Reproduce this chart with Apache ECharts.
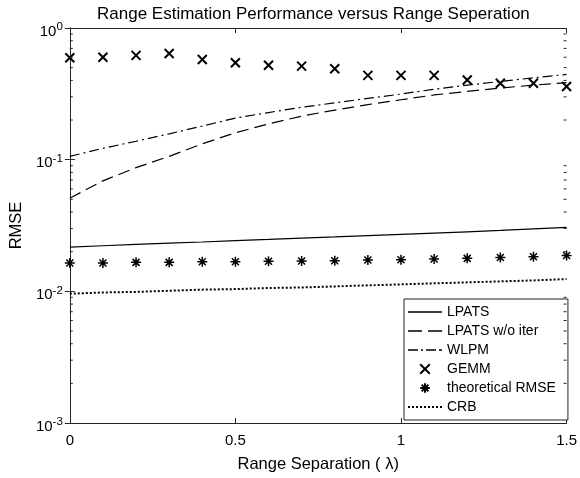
<!DOCTYPE html>
<html>
<head>
<meta charset="utf-8">
<script src="https://cdn.jsdelivr.net/npm/echarts@6/dist/echarts.min.js"></script>
<style>
  html, body { margin: 0; padding: 0; background: #fff; }
  #main { width: 580px; height: 478px; }
</style>
</head>
<body>
<div id="main"></div>
<script>
var xValues = [0, 0.1, 0.2, 0.3, 0.4, 0.5, 0.6, 0.7, 0.8, 0.9, 1.0, 1.1, 1.2, 1.3, 1.4, 1.5];
var lpats = [0.0217, 0.0222, 0.0227, 0.0232, 0.0237, 0.0243, 0.0248, 0.0254, 0.0259, 0.0265, 0.0271, 0.0277, 0.0283, 0.0290, 0.0298, 0.0306];
var lpatsNoIter = [0.051, 0.069, 0.087, 0.106, 0.132, 0.160, 0.187, 0.214, 0.238, 0.262, 0.285, 0.310, 0.330, 0.350, 0.368, 0.385];
var wlpm = [0.106, 0.122, 0.138, 0.157, 0.180, 0.207, 0.228, 0.250, 0.270, 0.292, 0.315, 0.343, 0.368, 0.393, 0.418, 0.444];
var gemm = [0.594, 0.600, 0.620, 0.640, 0.577, 0.545, 0.522, 0.513, 0.490, 0.437, 0.437, 0.437, 0.403, 0.380, 0.380, 0.359];
var theoretical = [0.0164, 0.0164, 0.0166, 0.0166, 0.0168, 0.0168, 0.0169, 0.0170, 0.0171, 0.0173, 0.0174, 0.0176, 0.0178, 0.0181, 0.0183, 0.0187];
var crb = [0.0096, 0.0098, 0.0099, 0.0101, 0.0103, 0.0104, 0.0106, 0.0107, 0.0109, 0.0111, 0.0113, 0.0115, 0.0117, 0.0119, 0.0121, 0.0124];
var minorTicks = [0.002, 0.003, 0.004, 0.005, 0.006, 0.007, 0.008, 0.009,
                  0.02, 0.03, 0.04, 0.05, 0.06, 0.07, 0.08, 0.09,
                  0.2, 0.3, 0.4, 0.5, 0.6, 0.7, 0.8, 0.9];
var seriesNames = ['LPATS', 'LPATS w/o iter', 'WLPM', 'GEMM', 'theoretical RMSE', 'CRB'];

var FONT = "'Liberation Sans', Arial, Helvetica, sans-serif";
var INK = '#262626';
var crossPath = 'path://M0,0L10,10M0,10L10,0';
var starPath = 'path://M5,0L5,10M0,5L10,5M1.5,1.5L8.5,8.5M1.5,8.5L8.5,1.5';

// legend line samples (34px wide), drawn as filled bars
var legendIcons = {
    'LPATS': 'path://M0,0H34V1.5H0Z',
    'LPATS w/o iter': 'path://M0,0H14V1.5H0Z M20,0H34V1.5H20Z',
    'WLPM': 'path://M0,0H10V1.5H0Z M13,0H15V1.5H13Z M18,0H28V1.5H18Z M31,0H34V1.5H31Z',
    'CRB': 'path://M0,0H2V2H0Z M4,0H6V2H4Z M8,0H10V2H8Z M12,0H14V2H12Z M16,0H18V2H16Z M20,0H22V2H20Z M24,0H26V2H24Z M28,0H30V2H28Z M32,0H34V2H32Z'
};

function pairs(ys) {
    return xValues.map(function (x, i) { return [x, ys[i]]; });
}

function lineSeries(name, ys, dash, width) {
    return {
        name: name, type: 'line', data: pairs(ys),
        symbol: 'none', color: '#000',
        lineStyle: { color: '#000', width: width || 1.2, type: dash },
        z: 3
    };
}

function markerSeries(name, ys, path, size, bw) {
    return {
        name: name, type: 'line', data: pairs(ys),
        symbol: path, symbolSize: size, showSymbol: true, color: '#000',
        lineStyle: { width: 0, opacity: 0 },
        itemStyle: { color: '#000', borderColor: '#000', borderWidth: bw },
        z: 4
    };
}

var dom = document.getElementById('main');
var myChart = echarts.init(dom, null, { renderer: 'canvas' });
var option = {
    animation: false,
    backgroundColor: '#fff',
    textStyle: { fontFamily: FONT },
    title: {
        text: 'Range Estimation Performance versus Range Seperation',
        left: 97, top: 6, padding: 0,
        textStyle: { fontFamily: FONT, fontSize: 17, fontWeight: 'normal', color: '#000' }
    },
    grid: { left: 67, right: 12, top: 28, bottom: 52, containLabel: false },
    legend: {
        data: seriesNames.map(function (n) {
            return legendIcons[n] ? { name: n, icon: legendIcons[n] } : { name: n };
        }),
        orient: 'vertical',
        left: 404, top: 299,
        padding: [6, 12, 6, 4],
        itemWidth: 34, itemHeight: 12, itemGap: 5,
        backgroundColor: '#fff',
        borderColor: INK, borderWidth: 1, borderRadius: 0,
        textStyle: { fontFamily: FONT, fontSize: 14, color: '#000' },
        selectedMode: false
    },
    xAxis: [{
        type: 'value', min: 0, max: 1.5, interval: 0.5,
        name: 'Range Separation ( λ)', nameLocation: 'middle', nameGap: 33,
        nameTextStyle: { fontFamily: FONT, fontSize: 16.5, color: '#000' },
        axisLine: { lineStyle: { color: INK, width: 1 } },
        axisTick: { inside: true, length: 5, lineStyle: { color: INK } },
        axisLabel: { fontFamily: FONT, fontSize: 15, color: '#000', margin: 10 },
        splitLine: { show: false }
    }, {
        type: 'value', min: 0, max: 1.5, interval: 0.5, position: 'top',
        axisLine: { lineStyle: { color: INK, width: 1 } },
        axisTick: { inside: true, length: 5, lineStyle: { color: INK } },
        axisLabel: { show: false },
        splitLine: { show: false }
    }],
    yAxis: [{
        type: 'log', logBase: 10, min: 0.001, max: 1,
        name: 'RMSE', nameLocation: 'middle', nameGap: 42,
        nameTextStyle: { fontFamily: FONT, fontSize: 16.5, color: '#000' },
        axisLine: { show: true, lineStyle: { color: INK, width: 1 } },
        axisTick: { show: true, inside: true, length: 5, lineStyle: { color: INK } },
        axisLabel: {
            margin: 7,
            formatter: function (v) {
                var e = Math.round(Math.log(v) / Math.LN10);
                return '{b|10}{s|' + e + '}';
            },
            rich: {
                b: { fontFamily: FONT, fontSize: 15, color: '#000', verticalAlign: 'bottom', padding: [7, 0, 0, 0] },
                s: { fontFamily: FONT, fontSize: 11.5, color: '#000', verticalAlign: 'top', padding: [4, 0, 0, 0] }
            }
        },
        splitLine: { show: false }
    }, {
        type: 'log', logBase: 10, min: 0.001, max: 1, position: 'right',
        axisLine: { show: true, lineStyle: { color: INK, width: 1 } },
        axisTick: { show: true, inside: true, length: 5, lineStyle: { color: INK } },
        axisLabel: { show: false },
        splitLine: { show: false }
    }],
    series: [
        lineSeries('LPATS', lpats, 'solid'),
        lineSeries('LPATS w/o iter', lpatsNoIter, [12, 6]),
        lineSeries('WLPM', wlpm, [10, 4, 2, 4]),
        markerSeries('GEMM', gemm, crossPath, 9, 2),
        markerSeries('theoretical RMSE', theoretical, starPath, 10, 1.5),
        lineSeries('CRB', crb, [2, 2], 2),
        {
            name: 'minor ticks', type: 'custom', silent: true, z: 5,
            data: minorTicks.map(function (v) { return [0, v]; }),
            renderItem: function (params, api) {
                var v = api.value(1);
                var l = api.coord([0, v]);
                var r = api.coord([1.5, v]);
                var st = { stroke: INK, lineWidth: 1 };
                return {
                    type: 'group',
                    children: [
                        { type: 'line', shape: { x1: l[0], y1: l[1], x2: l[0] + 3, y2: l[1] }, style: st },
                        { type: 'line', shape: { x1: r[0] - 3, y1: r[1], x2: r[0], y2: r[1] }, style: st }
                    ]
                };
            }
        }
    ]
};
if (option && typeof option === 'object') {
    myChart.setOption(option, true);
}
</script>
</body>
</html>
